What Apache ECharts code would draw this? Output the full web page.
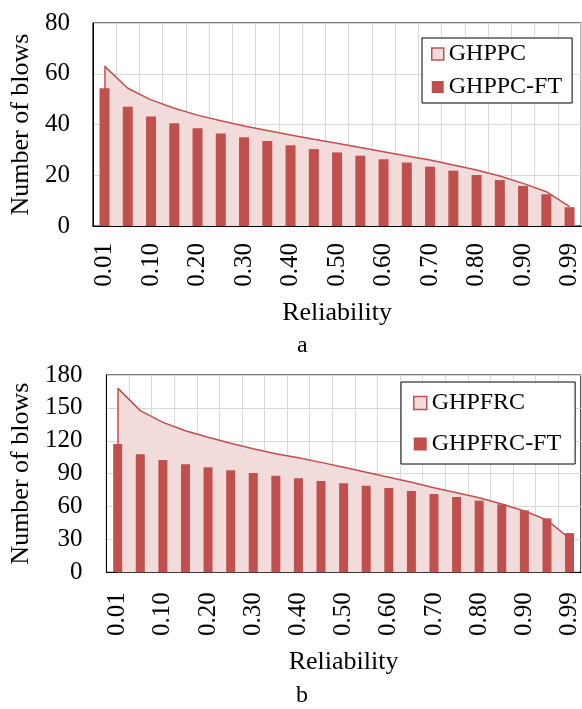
<!DOCTYPE html>
<html>
<head>
<meta charset="utf-8">
<script src="https://cdn.jsdelivr.net/npm/echarts@6/dist/echarts.min.js"></script>
<style>
html,body{margin:0;padding:0;background:#fff;}
#chart{width:582px;height:709px;}
</style>
</head>
<body>
<div id="chart"></div>
<script>
const categories = ['0.01','0.05','0.10','0.15','0.20','0.25','0.30','0.35','0.40','0.45','0.50','0.55','0.60','0.65','0.70','0.75','0.80','0.85','0.90','0.95','0.99'];

// Panel a
const ghppc   = [63, 54.3, 49.7, 46.4, 43.7, 41.5, 39.4, 37.6, 35.9, 34.2, 32.6, 30.9, 29.3, 27.6, 26.0, 24.0, 22.1, 19.7, 16.8, 13.5, 7.6];
const ghppcFT = [54.3, 47, 43.2, 40.5, 38.5, 36.5, 35, 33.5, 31.8, 30.3, 29, 27.7, 26.3, 25, 23.4, 21.8, 20.1, 18.1, 15.8, 12.5, 7.4];
const yTicksA = {min: 0, max: 80, interval: 20};

// Panel b
const ghpfrc   = [168, 147.5, 136.8, 129.2, 123.2, 117.7, 112.8, 108.2, 104.5, 100.3, 95.8, 91.2, 86.7, 82.1, 77.2, 72.6, 68.0, 62.3, 55.9, 47.7, 31];
const ghpfrcFT = [117, 107.7, 102.5, 98.5, 95.8, 93, 90.6, 88.1, 85.8, 83.3, 81.2, 79, 76.9, 74.2, 71.4, 68.7, 65.4, 62, 56.5, 49.2, 35.8];
const yTicksB = {min: 0, max: 180, interval: 30};

const xName = 'Reliability';
const yName = 'Number of blows';
const captions = ['a', 'b'];

const FONT = '"Liberation Serif", "Times New Roman", serif';
const RED = '#C0504D';
const PINK = '#F2DCDB';
const GRIDC = '#d9d9d9';

const chart = echarts.init(document.getElementById('chart'), null, {renderer: 'canvas'});

function xAxisCfg(gridIndex, margin, nameGap) {
  return {
    type: 'category', gridIndex, data: categories, boundaryGap: true,
    name: xName, nameLocation: 'middle', nameGap,
    nameTextStyle: {fontFamily: FONT, fontSize: 26, color: '#000'},
    axisLine: {show: true, lineStyle: {color: '#000', width: 1}},
    axisTick: {show: false},
    axisLabel: {interval: 1, rotate: 90, margin, fontFamily: FONT, fontSize: 25, color: '#000'},
    splitLine: {show: true, interval: 0, lineStyle: {color: GRIDC, width: 1}}
  };
}
function yAxisCfg(gridIndex, ticks, margin, nameGap) {
  return {
    type: 'value', gridIndex, min: ticks.min, max: ticks.max, interval: ticks.interval,
    name: yName, nameLocation: 'middle', nameGap,
    nameTextStyle: {fontFamily: FONT, fontSize: 26, color: '#000'},
    axisLine: {show: true, lineStyle: {color: '#000', width: 1}},
    axisTick: {show: false},
    axisLabel: {margin, fontFamily: FONT, fontSize: 25, color: '#000'},
    splitLine: {show: true, lineStyle: {color: GRIDC, width: 1}}
  };
}
function areaSeries(name, data, idx) {
  return {
    name, type: 'line', xAxisIndex: idx, yAxisIndex: idx, data,
    symbol: 'none', z: 1,
    lineStyle: {color: RED, width: 1.5},
    itemStyle: {color: PINK, borderColor: RED},
    areaStyle: {color: PINK, opacity: 1},
    markLine: {
      silent: true, symbol: ['none', 'none'], label: {show: false},
      lineStyle: {color: RED, width: 1.5, type: 'solid'},
      data: [[{coord: [categories[0], 0]}, {coord: [categories[0], data[0]]}]]
    }
  };
}
function barSeries(name, data, idx, w) {
  return {
    name, type: 'bar', xAxisIndex: idx, yAxisIndex: idx, data,
    barWidth: w, z: 3, itemStyle: {color: RED}
  };
}

const option = {
  animation: false,
  backgroundColor: '#fff',
  grid: [
    {left: 90, top: 23, width: 492, height: 203, show: true, borderColor: '#000', borderWidth: 1, backgroundColor: 'transparent'},
    {left: 106, top: 375, width: 476, height: 197.3, show: true, borderColor: '#000', borderWidth: 1, backgroundColor: 'transparent'}
  ],
  xAxis: [xAxisCfg(0, 17, 74), xAxisCfg(1, 20, 77)],
  yAxis: [yAxisCfg(0, yTicksA, 23, 54), yAxisCfg(1, yTicksB, 24, 70)],
  legend: [
    {
      left: 422, top: 38, orient: 'vertical', padding: [4, 10, 4, 9], itemGap: 9,
      itemWidth: 12, itemHeight: 12, borderColor: '#000', borderWidth: 1, backgroundColor: '#fff',
      textStyle: {fontFamily: FONT, fontSize: 24, color: '#000', lineHeight: 24},
      data: [
        {name: 'GHPPC', icon: 'rect', itemStyle: {color: PINK, borderColor: RED, borderWidth: 1.5}},
        {name: 'GHPPC-FT', icon: 'rect', itemStyle: {color: RED}}
      ]
    },
    {
      left: 401, top: 382, orient: 'vertical', padding: [9, 14, 8, 12], itemGap: 17,
      itemWidth: 13, itemHeight: 13, borderColor: '#000', borderWidth: 1, backgroundColor: '#fff',
      textStyle: {fontFamily: FONT, fontSize: 24, color: '#000', lineHeight: 24},
      data: [
        {name: 'GHPFRC', icon: 'rect', itemStyle: {color: PINK, borderColor: RED, borderWidth: 1.5}},
        {name: 'GHPFRC-FT', icon: 'rect', itemStyle: {color: RED}}
      ]
    }
  ],
  graphic: [
    {type: 'text', left: 297, top: 334, style: {text: captions[0], font: '24px ' + FONT, fill: '#000'}},
    {type: 'text', left: 296, top: 684, style: {text: captions[1], font: '24px ' + FONT, fill: '#000'}}
  ],
  series: [
    areaSeries('GHPPC', ghppc, 0),
    barSeries('GHPPC-FT', ghppcFT, 0, 10),
    areaSeries('GHPFRC', ghpfrc, 1),
    barSeries('GHPFRC-FT', ghpfrcFT, 1, 9)
  ]
};
chart.setOption(option);
</script>
</body>
</html>
